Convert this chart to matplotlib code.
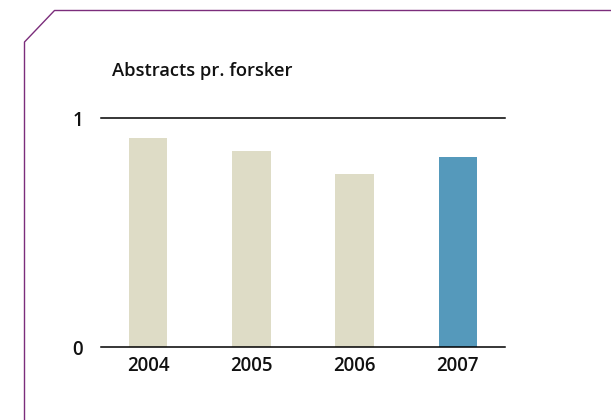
import matplotlib
matplotlib.use("Agg")
import matplotlib.pyplot as plt
from matplotlib.lines import Line2D
from matplotlib.font_manager import FontProperties

years = ["2004", "2005", "2006", "2007"]
values = [0.914, 0.857, 0.757, 0.831]
bar_colors = ["#dedcc6", "#dedcc6", "#dedcc6", "#5599bb"]
title = "Abstracts pr. forsker"

W, H = 611, 420
fig = plt.figure(figsize=(W / 100, H / 100), dpi=100)
fig.patch.set_facecolor("white")

tick_font = FontProperties(family="Open Sans", weight="semibold",
                           stretch="normal", size=13.4)
title_font = FontProperties(family="Open Sans", weight="semibold",
                            stretch="normal", size=13.2)

# Axes area in pixel coordinates: x 101..505, y 118..347 (top-down)
ax_left, ax_right = 101, 505
ax_top, ax_bottom = 118.3, 347.3
ax = fig.add_axes([ax_left / W, 1 - ax_bottom / H,
                   (ax_right - ax_left) / W, (ax_bottom - ax_top) / H])
ax.set_xlim(-0.46, 3.46)
ax.set_ylim(0, 1)
ax.bar(range(len(years)), values, width=0.37, color=bar_colors, zorder=2)
ax.spines["left"].set_visible(False)
ax.spines["right"].set_visible(False)
ax.spines["top"].set_linewidth(1.1)
ax.spines["bottom"].set_linewidth(1.1)
ax.set_yticks([0, 1])
ax.set_yticklabels(["0", "1"], fontproperties=tick_font, color="#111111")
ax.set_xticks(range(len(years)))
ax.set_xticklabels(years, fontproperties=tick_font, color="#111111")
ax.tick_params(length=0, pad=6)
ax.tick_params(axis="y", pad=13)

fig.text(112 / W, 1 - 71 / H, title, fontproperties=title_font,
         va="center", ha="left", color="#111111")

# Purple frame with clipped top-left corner
purple = "#7b2d7b"
xs = [24.5, 24.5, 54.5, 611]
ys = [420, 42, 10.5, 10.5]
fig.add_artist(Line2D([x / W for x in xs], [1 - y / H for y in ys],
                      color=purple, linewidth=1.0, transform=fig.transFigure))

fig.savefig("out.png", dpi=100, facecolor="white")
